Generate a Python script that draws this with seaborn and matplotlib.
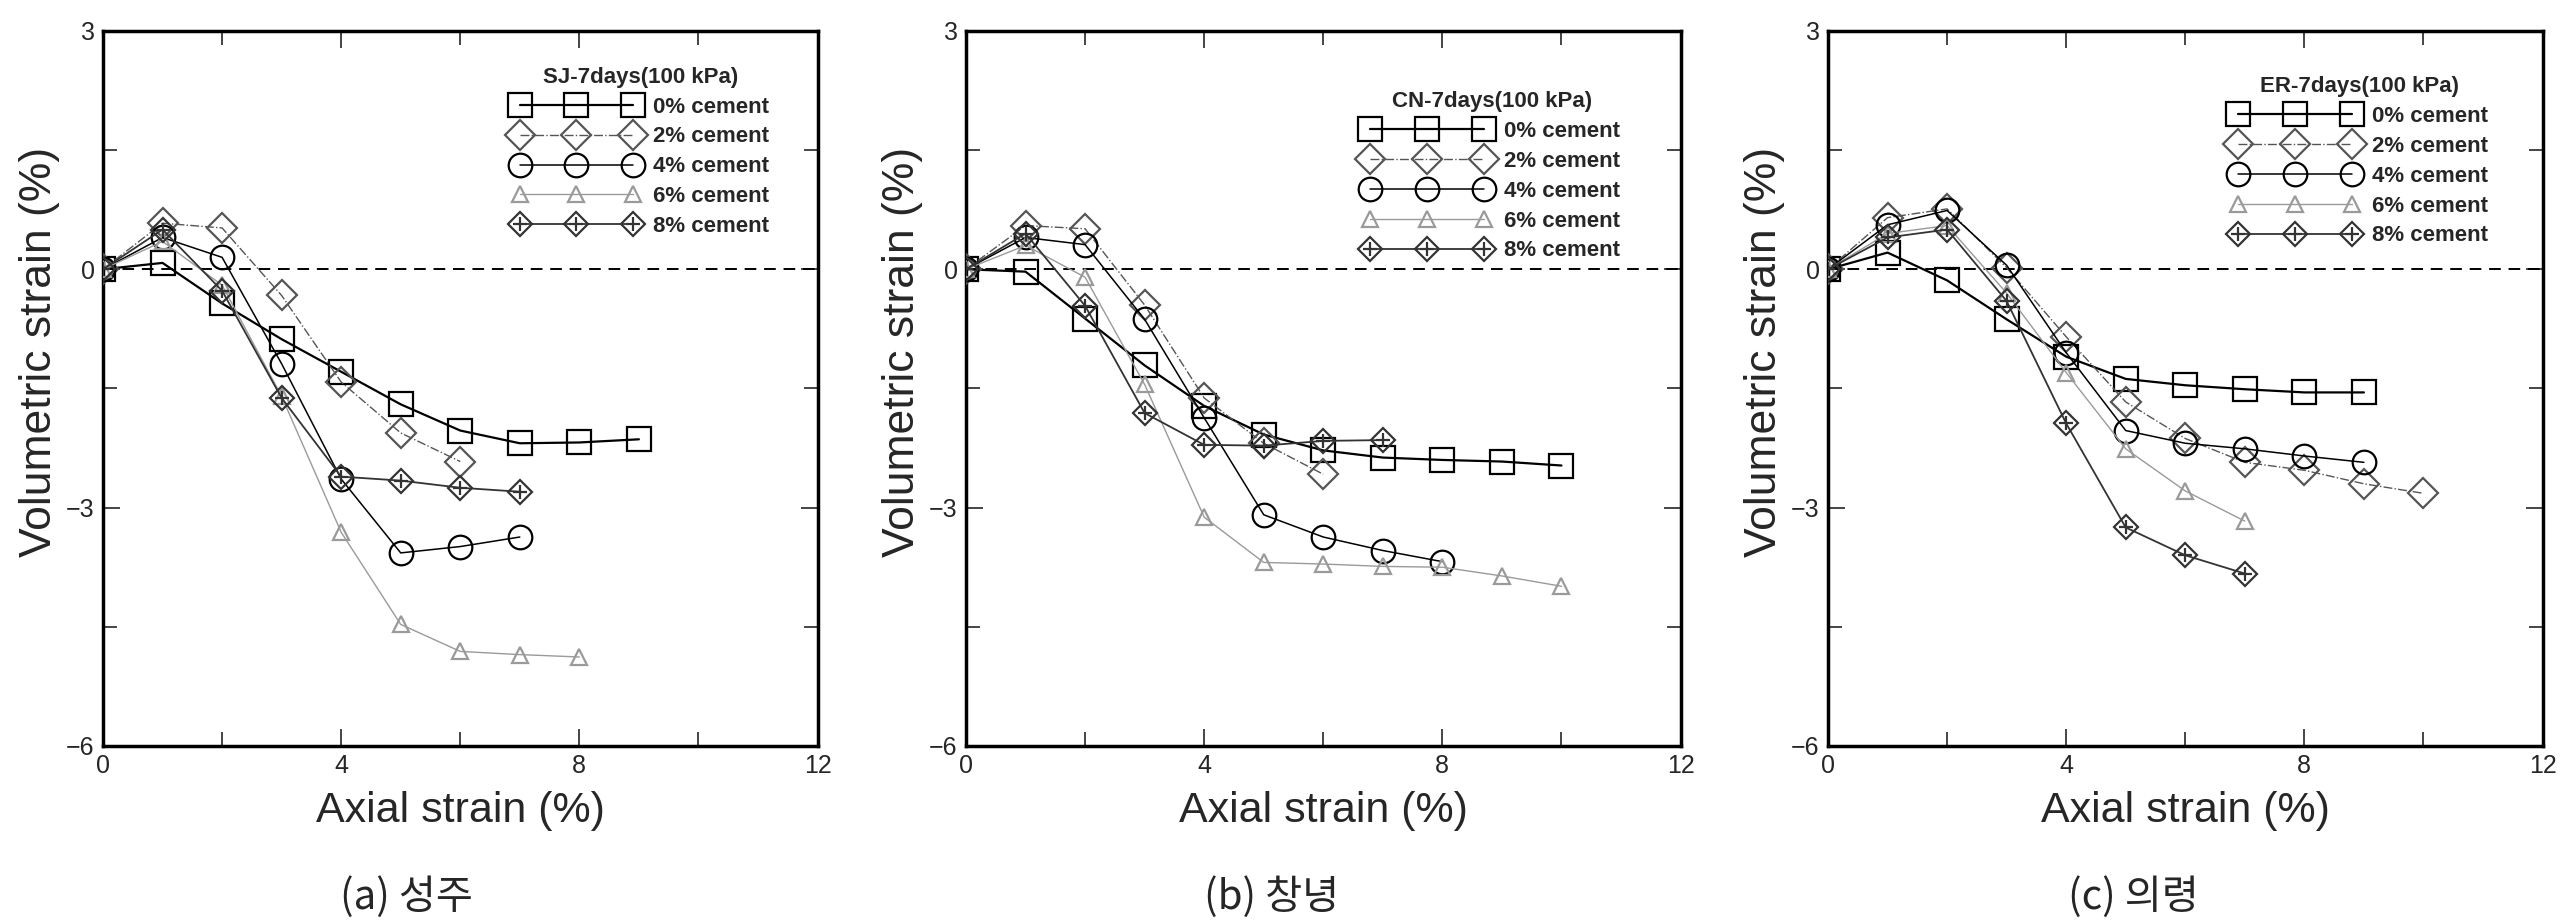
import numpy as np
import pandas as pd
import matplotlib
matplotlib.use("Agg")
import matplotlib.pyplot as plt
from matplotlib.lines import Line2D
import seaborn as sns

# ---------------------------------------------------------
# Dados (deformação axial x volumétrica)
# ---------------------------------------------------------
cement_labels = ['0% cement', '2% cement', '4% cement', '6% cement', '8% cement']
panel_titles = ['SJ-7days(100 kPa)', 'CN-7days(100 kPa)', 'ER-7days(100 kPa)']
captions = ['(a) 성주', '(b) 창녕', '(c) 의령']

# SJ (성주)
sj_x = {
    '0% cement': [0, 1, 2, 3, 4, 5, 6, 7, 8, 9],
    '2% cement': [0, 1, 2, 3, 4, 5, 6],
    '4% cement': [0, 1, 2, 3, 4, 5, 6, 7],
    '6% cement': [0, 1, 2, 3, 4, 5, 6, 7, 8],
    '8% cement': [0, 1, 2, 3, 4, 5, 6, 7],
}
sj_y = {
    '0% cement': [0, 0.08, -0.43, -0.88, -1.29, -1.70, -2.03, -2.19, -2.18, -2.14],
    '2% cement': [0, 0.58, 0.52, -0.33, -1.42, -2.06, -2.42],
    '4% cement': [0, 0.40, 0.15, -1.19, -2.64, -3.57, -3.49, -3.37],
    '6% cement': [0, 0.35, -0.20, -1.60, -3.31, -4.47, -4.81, -4.85, -4.88],
    '8% cement': [0, 0.50, -0.27, -1.62, -2.61, -2.66, -2.75, -2.80],
}

# CN (창녕)
cn_x = {
    '0% cement': [0, 1, 2, 3, 4, 5, 6, 7, 8, 9, 10],
    '2% cement': [0, 1, 2, 3, 4, 5, 6],
    '4% cement': [0, 1, 2, 3, 4, 5, 6, 7, 8],
    '6% cement': [0, 1, 2, 3, 4, 5, 6, 7, 8, 9, 10],
    '8% cement': [0, 1, 2, 3, 4, 5, 6, 7],
}
cn_y = {
    '0% cement': [0, -0.03, -0.62, -1.21, -1.72, -2.08, -2.28, -2.37, -2.40, -2.42, -2.47],
    '2% cement': [0, 0.55, 0.51, -0.45, -1.62, -2.19, -2.58],
    '4% cement': [0, 0.40, 0.31, -0.63, -1.87, -3.09, -3.37, -3.54, -3.68],
    '6% cement': [0, 0.30, -0.10, -1.45, -3.12, -3.69, -3.71, -3.74, -3.75, -3.86, -3.99],
    '8% cement': [0, 0.45, -0.46, -1.81, -2.21, -2.22, -2.16, -2.15],
}

# ER (의령)
er_x = {
    '0% cement': [0, 1, 2, 3, 4, 5, 6, 7, 8, 9],
    '2% cement': [0, 1, 2, 3, 4, 5, 6, 7, 8, 9, 10],
    '4% cement': [0, 1, 2, 3, 4, 5, 6, 7, 8, 9],
    '6% cement': [0, 1, 2, 3, 4, 5, 6, 7],
    '8% cement': [0, 1, 2, 3, 4, 5, 6, 7],
}
er_y = {
    '0% cement': [0, 0.21, -0.14, -0.63, -1.10, -1.38, -1.46, -1.51, -1.55, -1.55],
    '2% cement': [0, 0.65, 0.76, 0.02, -0.85, -1.67, -2.13, -2.43, -2.53, -2.70, -2.82],
    '4% cement': [0, 0.56, 0.74, 0.05, -1.05, -2.03, -2.19, -2.26, -2.35, -2.43],
    '6% cement': [0, 0.45, 0.55, -0.30, -1.30, -2.26, -2.79, -3.17],
    '8% cement': [0, 0.40, 0.50, -0.40, -1.94, -3.25, -3.60, -3.83],
}

painel_x = [sj_x, cn_x, er_x]
painel_y = [sj_y, cn_y, er_y]

# estilo de cada série: marcador, cor da linha, espessura, tracejado, tamanho
estilos = {
    '0% cement': dict(marker='s', color='black', lw=1.6, ls='-', ms=17),
    '2% cement': dict(marker='D', color='#555555', lw=1.0, ls='-.', ms=15),
    '4% cement': dict(marker='o', color='black', lw=1.1, ls='-', ms=17),
    '6% cement': dict(marker='^', color='#9a9a9a', lw=1.0, ls='-', ms=11),
    '8% cement': dict(marker='D', color='#333333', lw=1.3, ls='-', ms=12),
}

# ---------------------------------------------------------
# Figura
# ---------------------------------------------------------
sns.set_theme(style="ticks")
plt.rcParams['font.family'] = ['Liberation Sans', 'Noto Sans CJK KR', 'DejaVu Sans']

fig = plt.figure(figsize=(25.74, 9.23), dpi=100)
lefts = [103 / 2574, 966 / 2574, 1828 / 2574]
leg_anchor = [(0.932, 0.950), (0.915, 0.916), (0.923, 0.937)]
cap_x = [0.158, 0.494, 0.829]

for i in range(3):
    ax = fig.add_axes([lefts[i], 0.1918, 0.2776, 0.7747])
    ax.axhline(0, color='black', ls=(0, (6, 4)), lw=1.4, zorder=1)

    handles = []
    for lab in cement_labels:
        st = estilos[lab]
        df = pd.DataFrame({'x': painel_x[i][lab], 'y': painel_y[i][lab]})
        sns.lineplot(data=df, x='x', y='y', ax=ax, color=st['color'], lw=st['lw'],
                     ls=st['ls'], marker=st['marker'], markersize=st['ms'],
                     markerfacecolor='none', markeredgecolor=st['color'],
                     markeredgewidth=1.6, zorder=3, legend=False)
        h = Line2D([], [], color=st['color'], lw=st['lw'], ls=st['ls'],
                   marker=st['marker'], markersize=st['ms'], markerfacecolor='none',
                   markeredgecolor=st['color'], markeredgewidth=1.6)
        if lab == '8% cement':
            # losango com cruz no meio
            sns.lineplot(data=df, x='x', y='y', ax=ax, color=st['color'], lw=0,
                         marker='+', markersize=st['ms'] - 2, markeredgewidth=1.6,
                         markeredgecolor=st['color'], zorder=4, legend=False)
            hp = Line2D([], [], ls='none', marker='+', markersize=st['ms'] - 2,
                        markeredgewidth=1.6, markeredgecolor=st['color'])
            h = (h, hp)
        handles.append(h)

    ax.set_xlim(0, 12)
    ax.set_ylim(-6, 3)
    ax.set_xticks([0, 4, 8, 12])
    ax.set_xticks([2, 6, 10], minor=True)
    ax.set_yticks([-6, -3, 0, 3])
    ax.set_yticks([-4.5, -1.5, 1.5], minor=True)
    ax.tick_params(which='both', direction='in', top=True, right=True)
    ax.tick_params(which='major', length=12, width=1.2, labelsize=18, pad=6)
    ax.tick_params(which='minor', length=10, width=1.2)
    for s in ax.spines.values():
        s.set_linewidth(2.5)
        s.set_color('black')

    ax.set_xlabel('Axial strain (%)', fontsize=31)
    ax.xaxis.set_label_coords(0.5, -0.063)
    ax.set_ylabel('Volumetric strain (%)', fontsize=32)
    ax.yaxis.set_label_coords(-0.06, 0.551)

    ax.legend(handles, cement_labels, title=panel_titles[i], loc='upper right',
              bbox_to_anchor=leg_anchor[i], frameon=False, numpoints=3,
              handlelength=5.7, handletextpad=0.6, labelspacing=0.4,
              borderpad=0, borderaxespad=0,
              prop={'size': 16, 'weight': 'bold'},
              title_fontproperties={'size': 16, 'weight': 'bold'})

    fig.text(cap_x[i], 0.028, captions[i], ha='center', va='center', fontsize=29,
             family=['Noto Sans CJK KR', 'DejaVu Sans'])

fig.savefig('out.png', dpi=100)
